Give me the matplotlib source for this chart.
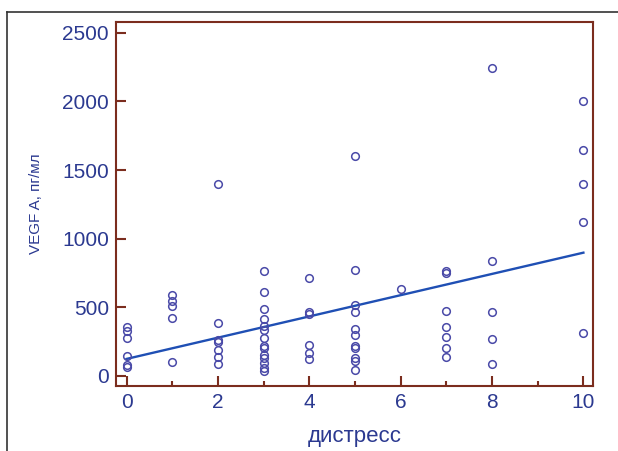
import matplotlib
matplotlib.use("Agg")
import matplotlib.pyplot as plt
from matplotlib.lines import Line2D
from matplotlib.ticker import MultipleLocator
import numpy as np

# ── Data ──────────────────────────────────────────────────────────────────
distress_0 = [355, 330, 275, 145, 80, 65]
distress_1 = [590, 545, 510, 420, 100]
distress_2 = [1400, 385, 265, 245, 190, 135, 85]
distress_3 = [765, 610, 490, 415, 365, 335, 280, 220, 205, 150, 130, 95, 60, 35]
distress_4 = [715, 465, 450, 225, 165, 120]
distress_5 = [1600, 770, 515, 465, 340, 300, 215, 200, 130, 110, 45]
distress_6 = [630]
distress_7 = [765, 750, 475, 360, 285, 205, 135]
distress_8 = [2240, 840, 465, 270, 90]
distress_10 = [2000, 1645, 1400, 1120, 310]

groups = {0: distress_0, 1: distress_1, 2: distress_2, 3: distress_3,
          4: distress_4, 5: distress_5, 6: distress_6, 7: distress_7,
          8: distress_8, 10: distress_10}

fit_intercept = 124
fit_slope = 77.4
fit_x = [0, 10]

# ── Style ─────────────────────────────────────────────────────────────────
SPINE = "#7b2d1e"
TEXT = "#2b3990"
MARK = "#4a4aa8"
LINE = "#1f4fb4"

plt.rcParams["font.family"] = ["Liberation Sans", "DejaVu Sans"]

fig = plt.figure(figsize=(6.18, 4.51), dpi=100, facecolor="white")
ax = fig.add_axes([116 / 618, 1 - 385.7 / 451, 477 / 618, 363.4 / 451])

xs = np.concatenate([[k] * len(v) for k, v in groups.items()])
ys = np.concatenate([v for v in groups.values()])
ax.plot(xs, ys, "o", ms=5.5, mfc="none", mec=MARK, mew=1.1, zorder=3)

fx = np.array(fit_x)
ax.plot(fx, fit_intercept + fit_slope * fx, color=LINE, lw=1.7, zorder=2)

ax.set_xlim(-0.23, 10.21)
ax.set_ylim(-71, 2576)
ax.xaxis.set_major_locator(MultipleLocator(2))
ax.xaxis.set_minor_locator(MultipleLocator(1))
ax.yaxis.set_major_locator(MultipleLocator(500))

for s in ax.spines.values():
    s.set_color(SPINE)
    s.set_linewidth(1.5)

ax.tick_params(axis="both", which="major", direction="in", length=7,
               width=1.5, color=SPINE, labelcolor=TEXT, labelsize=15, pad=5)
ax.tick_params(axis="x", which="minor", direction="in", length=3.5,
               width=1.5, color=SPINE)
ax.tick_params(axis="y", which="minor", left=False)

ax.set_xlabel("дистресс", fontsize=16, color=TEXT, labelpad=10)
ax.set_ylabel("VEGF A, пг/мл", fontsize=11, color=TEXT, labelpad=14)

# outer frame lines (left and top)
fig.add_artist(Line2D([7 / 618, 7 / 618], [0, 1 - 12 / 451],
                      transform=fig.transFigure, color="#333333", lw=1.2))
fig.add_artist(Line2D([7 / 618, 1], [1 - 12 / 451, 1 - 12 / 451],
                      transform=fig.transFigure, color="#333333", lw=1.2))

fig.savefig("out.png", dpi=100, facecolor="white")
